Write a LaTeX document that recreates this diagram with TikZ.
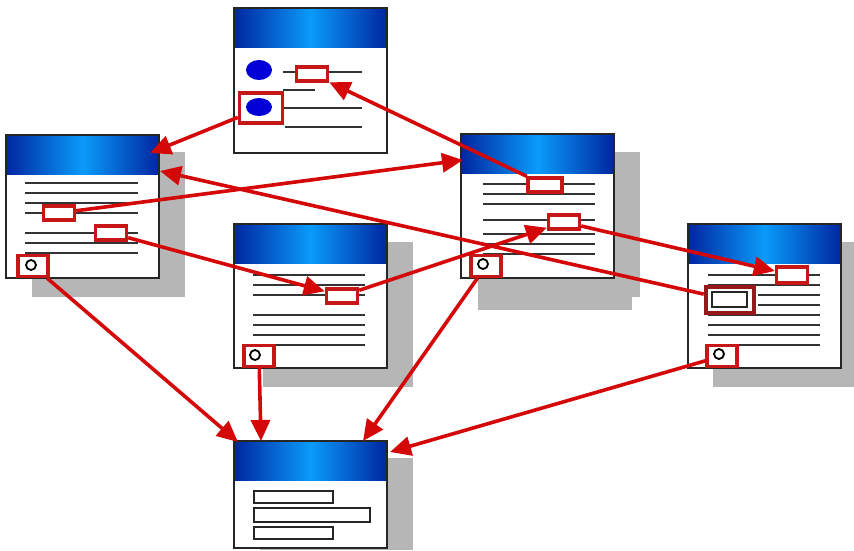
\documentclass[tikz,border=0pt]{standalone}
\usetikzlibrary{arrows.meta}

\definecolor{linkred}{RGB}{212,8,8}
\definecolor{boxred}{RGB}{198,22,22}
\definecolor{boxdark}{RGB}{150,24,24}
\definecolor{barblue}{RGB}{0,38,160}
\definecolor{barlight}{RGB}{10,155,250}
\definecolor{dropgray}{RGB}{182,182,182}
\definecolor{dotblue}{RGB}{0,0,215}

% one page window: left x, top y, height
\def\pagewin#1#2#3{
  \fill[white] (#1,#2) rectangle (#1+153,#2+#3);
  \shade[left color=barblue,right color=barblue,middle color=barlight] (#1,#2) rectangle (#1+153,#2+39);
  \draw[frame] (#1,#2) rectangle (#1+153,#2+#3);
}

\begin{document}
\begin{tikzpicture}[x=1pt,y=-1pt,
  frame/.style={draw=black!85,line width=2.2pt},
  txtline/.style={draw=black!80,line width=2.3pt},
  link/.style={draw=boxred,line width=3.4pt,fill=white,inner sep=0pt,minimum width=31pt,minimum height=14pt},
  anchorbox/.style={link,minimum width=30pt,minimum height=21pt},
  knob/.style={draw=black,line width=1.8pt,fill=white},
  field/.style={draw=black!85,line width=2pt,fill=white},
  jump/.style={draw=linkred,line width=3.6pt,-{Triangle[length=21pt,width=19pt]}}]
\useasboundingbox (0,0) rectangle (854,550);

% drop shadows
\fill[dropgray] (32,152) rectangle (185,297);
\fill[dropgray] (263,242) rectangle (413,387);
\fill[dropgray] (615,152) rectangle (640,297);
\fill[dropgray] (478,180) rectangle (632,310);
\fill[dropgray] (713,242) rectangle (854,387);
\fill[dropgray] (260,458) rectangle (413,550);

% windows
\pagewin{234}{8}{145}
\pagewin{6}{135}{143}
\pagewin{234}{224}{144}
\pagewin{461}{134}{144}
\pagewin{688}{224}{144}
\pagewin{234}{441}{107}

% text lines
\draw[txtline] (283,72) -- (362,72) (283,90) -- (315,90)
  (283,108) -- (362,108) (285,127) -- (362,127);
\foreach \y in {183,193,203,213,233,243,253}
  \draw[txtline] (25,\y) -- (138,\y);
\foreach \y in {275,285,295,315,325,335,345}
  \draw[txtline] (253,\y) -- (365,\y);
\foreach \y in {184,194,204,220,234,244,254}
  \draw[txtline] (483,\y) -- (595,\y);
\foreach \y in {275,285,315,325,335,345}
  \draw[txtline] (708,\y) -- (820,\y);
\foreach \y in {295,305}
  \draw[txtline] (758,\y) -- (820,\y);

% form fields
\draw[field] (254,491) rectangle (333,503);
\draw[field] (254,508) rectangle (370,522);
\draw[field] (254,527) rectangle (333,539);

% links
\node[link] (t1) at (312,74) {};
\node[link,minimum width=43pt,minimum height=30pt] (t2) at (261,108) {};
\node[link] (l1) at (59,213) {};
\node[link] (l2) at (111,233) {};
\node[anchorbox] (l3) at (33,266) {};
\node[link] (m1) at (342,296) {};
\node[anchorbox] (m2) at (259,356) {};
\node[link,minimum width=34pt] (r1) at (545,185) {};
\node[link] (r2) at (564,222) {};
\node[anchorbox] (r3) at (486,266) {};
\node[link,minimum height=16pt] (f1) at (792,275) {};
\node[link,draw=boxdark,line width=4.5pt,minimum width=48pt,minimum height=26pt] (f2) at (730,300) {};
\node[anchorbox] (f3) at (722,356) {};

\fill[dotblue] (259,70) ellipse (13pt and 10pt);
\fill[dotblue] (259,107) ellipse (13pt and 9pt);
\draw[field] (712,292) rectangle (747,307);
\foreach \p in {(31,265),(255,355),(483,264),(719,354)}
  \draw[knob] \p circle (5pt);

% link targets
\coordinate (Lhead) at (150,153);
\coordinate (Lside) at (160,171);
\coordinate (Rhead) at (463,160);
\coordinate (B1) at (238,442);
\coordinate (B2) at (261,441);
\coordinate (B3) at (363,441);
\coordinate (B4) at (390,452);

\draw[jump] (t2) -- (Lhead);
\draw[jump] (r1) -- (t1);
\draw[jump] (l1) -- (Rhead);
\draw[jump] (f2) -- (Lside);
\draw[jump] (l2) -- (m1);
\draw[jump] (m1) -- (r2);
\draw[jump] (r2) -- (f1);
\draw[jump] (l3) -- (B1);
\draw[jump] (m2) -- (B2);
\draw[jump] (r3) -- (B3);
\draw[jump] (f3) -- (B4);
\end{tikzpicture}
\end{document}
